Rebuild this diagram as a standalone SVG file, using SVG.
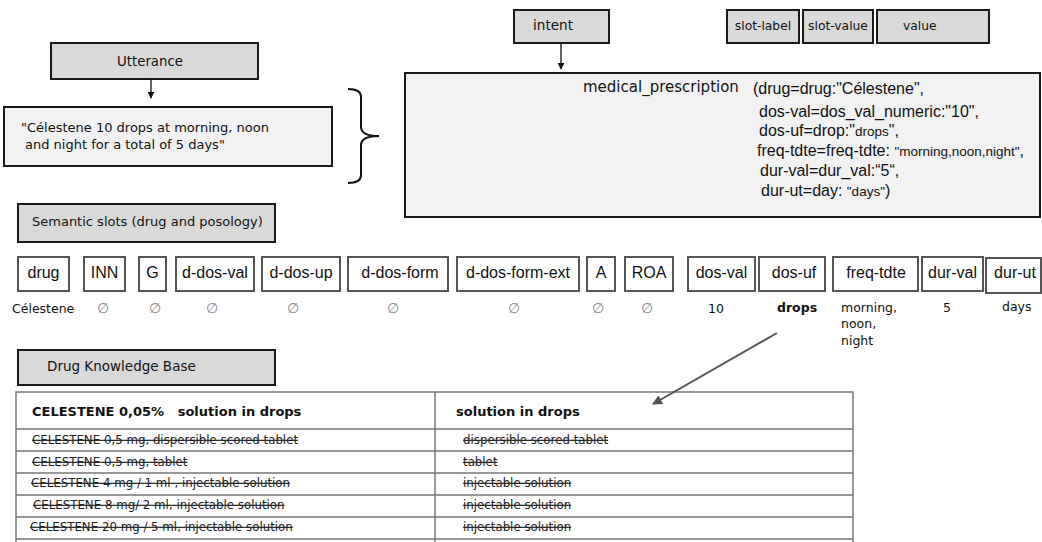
<svg xmlns="http://www.w3.org/2000/svg" width="1042" height="542" viewBox="0 0 1042 542">
<style>
.hd{fill:#d9d9d9;stroke:#1a1a1a;stroke-width:2}
.lt{fill:#f2f2f2;stroke:#1a1a1a;stroke-width:2}
.sl{fill:#fff;stroke:#555;stroke-width:2}
.dj{font-family:"DejaVu Sans",sans-serif;fill:#111}
.lb{font-family:"Liberation Sans",Arial,sans-serif;fill:#111}
.sv{font-family:"Liberation Sans",Arial,sans-serif;font-size:16px;fill:#111;text-anchor:middle}
.em{font-family:"DejaVu Sans",sans-serif;font-size:14px;fill:#8a8a8a;text-anchor:middle}
.val{font-family:"DejaVu Sans",sans-serif;font-size:12.5px;fill:#111}
.row{font-family:"DejaVu Sans",sans-serif;font-size:11.8px;fill:#222;text-decoration:line-through}
.tl{stroke:#777;stroke-width:1.5;fill:none}
.cn{stroke:#111;stroke-width:1.3;fill:none}
</style>
<defs>
<marker id="ah" viewBox="0 0 10 10" refX="9" refY="5" markerWidth="7" markerHeight="7" orient="auto" markerUnits="userSpaceOnUse"><path d="M0,0 L10,5 L0,10 z" fill="#111"/></marker>
<marker id="ag" viewBox="0 0 10 10" refX="9" refY="5" markerWidth="10" markerHeight="10" orient="auto" markerUnits="userSpaceOnUse"><path d="M0,0 L10,5 L0,10 z" fill="#555"/></marker>
</defs>

<g id="utterance"><rect class="hd" x="51" y="43" width="207" height="36"/><text class="dj" x="150" y="66" font-size="13.3" text-anchor="middle">Utterance</text></g>
<g id="utterance-text"><rect class="lt" x="4" y="107" width="328" height="59"/>
<text class="dj" font-size="13"><tspan x="21" y="132">"Célestene 10 drops at morning, noon</tspan><tspan x="25" y="149">and night for a total of 5 days"</tspan></text></g>

<g id="intent"><rect class="hd" x="514" y="10" width="95" height="33"/><text class="dj" x="533" y="30" font-size="13.6">intent</text></g>
<g id="slot-label"><rect class="hd" x="727" y="10" width="72" height="33"/><text class="dj" x="763" y="30" font-size="12.3" text-anchor="middle">slot-label</text></g>
<g id="slot-value"><rect class="hd" x="803" y="10" width="70" height="33"/><text class="dj" x="838" y="30" font-size="12.3" text-anchor="middle">slot-value</text></g>
<g id="value"><rect class="hd" x="877" y="10" width="112" height="33"/><text class="dj" x="903" y="30" font-size="12.3">value</text></g>

<g id="prescription"><rect class="lt" x="405" y="73" width="635" height="144" stroke-width="2.5"/>
<text class="dj" x="583" y="92" font-size="15">medical_prescription</text>
<text class="lb" font-size="16">
<tspan x="753" y="94">(drug=drug:"Célestene",</tspan>
<tspan x="759" y="117">dos-val=dos_val_numeric:"10",</tspan>
<tspan x="759" y="136">dos-uf=drop:"<tspan font-size="13.5">drops</tspan>",</tspan>
<tspan x="757" y="156">freq-tdte=freq-tdte: <tspan font-size="13.5">"morning,noon,night"</tspan>,</tspan>
<tspan x="760" y="176">dur-val=dur_val:“5“,</tspan>
<tspan x="761" y="196">dur-ut=day: <tspan font-size="13.5">"days"</tspan>)</tspan>
</text></g>

<g id="semantic-slots"><rect class="hd" x="18" y="204" width="257" height="38"/><text class="dj" x="32" y="226" font-size="13">Semantic slots (drug and posology)</text></g>

<g id="slot-drug"><rect class="sl" x="18" y="257" width="51" height="34"/><text class="sv" x="43.5" y="278">drug</text><text class="val" x="12" y="313">Célestene</text></g>
<g id="slot-inn"><rect class="sl" x="84" y="257" width="41" height="34"/><text class="sv" x="104.5" y="278">INN</text><text class="em" x="103" y="313">∅</text></g>
<g id="slot-g"><rect class="sl" x="139" y="257" width="27" height="34"/><text class="sv" x="152.5" y="278">G</text><text class="em" x="155" y="313">∅</text></g>
<g id="slot-d-dos-val"><rect class="sl" x="176" y="257" width="78" height="34"/><text class="sv" x="215" y="278">d-dos-val</text><text class="em" x="212" y="313">∅</text></g>
<g id="slot-d-dos-up"><rect class="sl" x="262" y="257" width="78" height="34"/><text class="sv" x="301" y="278">d-dos-up</text><text class="em" x="293" y="313">∅</text></g>
<g id="slot-d-dos-form"><rect class="sl" x="348" y="257" width="100" height="34"/><text class="sv" x="400" y="278">d-dos-form</text><text class="em" x="393" y="313">∅</text></g>
<g id="slot-d-dos-form-ext"><rect class="sl" x="457" y="257" width="122" height="34"/><text class="sv" x="518" y="278">d-dos-form-ext</text><text class="em" x="514" y="313">∅</text></g>
<g id="slot-a"><rect class="sl" x="587" y="257" width="28" height="34"/><text class="sv" x="601" y="278">A</text><text class="em" x="598" y="313">∅</text></g>
<g id="slot-roa"><rect class="sl" x="625" y="257" width="48" height="34"/><text class="sv" x="649" y="278">ROA</text><text class="em" x="647" y="313">∅</text></g>
<g id="slot-dos-val"><rect class="sl" x="688" y="257" width="67" height="34"/><text class="sv" x="721.5" y="278">dos-val</text><text class="val" x="708" y="313">10</text></g>
<g id="slot-dos-uf"><rect class="sl" x="759" y="257" width="66" height="34"/><text class="sv" x="794" y="278">dos-uf</text><text class="val" x="777" y="312" font-weight="bold">drops</text></g>
<g id="slot-freq-tdte"><rect class="sl" x="833" y="257" width="85" height="34"/><text class="sv" x="876" y="278">freq-tdte</text><text class="val"><tspan x="841" y="312">morning,</tspan><tspan x="841" y="328">noon,</tspan><tspan x="841" y="345">night</tspan></text></g>
<g id="slot-dur-val"><rect class="sl" x="922" y="257" width="61" height="34"/><text class="sv" x="952.5" y="278">dur-val</text><text class="val" x="943" y="312">5</text></g>
<g id="slot-dur-ut"><rect class="sl" x="986" y="258" width="55" height="35"/><text class="sv" x="1015" y="278">dur-ut</text><text class="val" x="1002" y="311">days</text></g>

<g id="drug-kb"><rect class="hd" x="18" y="350" width="257" height="35"/><text class="dj" x="47" y="371" font-size="13.5">Drug Knowledge Base</text></g>

<g id="kb-table">
<rect class="tl" x="16" y="392" width="837" height="160" fill="#fff"/>
<path class="tl" d="M16,429H853M16,451H853M16,473H853M16,495H853M16,517H853M16,539H853M435,392V542"/>
<text class="dj" x="32" y="416" font-size="13" font-weight="bold" xml:space="preserve">CELESTENE 0,05%   solution in drops</text>
<text class="dj" x="456" y="416" font-size="13" font-weight="bold">solution in drops</text>
<text class="row" x="32" y="444">CELESTENE 0,5 mg, dispersible scored tablet</text>
<text class="row" x="32" y="466">CELESTENE 0,5 mg, tablet</text>
<text class="row" x="31" y="487">CELESTENE 4 mg / 1 ml , injectable solution</text>
<text class="row" x="33" y="509">CELESTENE 8 mg/ 2 ml, injectable solution</text>
<text class="row" x="30" y="531">CELESTENE 20 mg / 5 ml, injectable solution</text>
<text class="row" x="463" y="444">dispersible scored tablet</text>
<text class="row" x="463" y="466">tablet</text>
<text class="row" x="463" y="487">injectable solution</text>
<text class="row" x="463" y="509">injectable solution</text>
<text class="row" x="463" y="531">injectable solution</text>
</g>

<g id="connectors">
<path class="cn" d="M151,79V98" marker-end="url(#ah)"/>
<path class="cn" d="M561,43V69" marker-end="url(#ah)"/>
<path d="M348,89Q361,89 361,97L361,127Q361,136 379,136Q361,136 361,145L361,175Q361,183 348,183" fill="none" stroke="#111" stroke-width="2"/>
<path d="M777,333L653,404" fill="none" stroke="#555" stroke-width="2" marker-end="url(#ag)"/>
</g>
</svg>
